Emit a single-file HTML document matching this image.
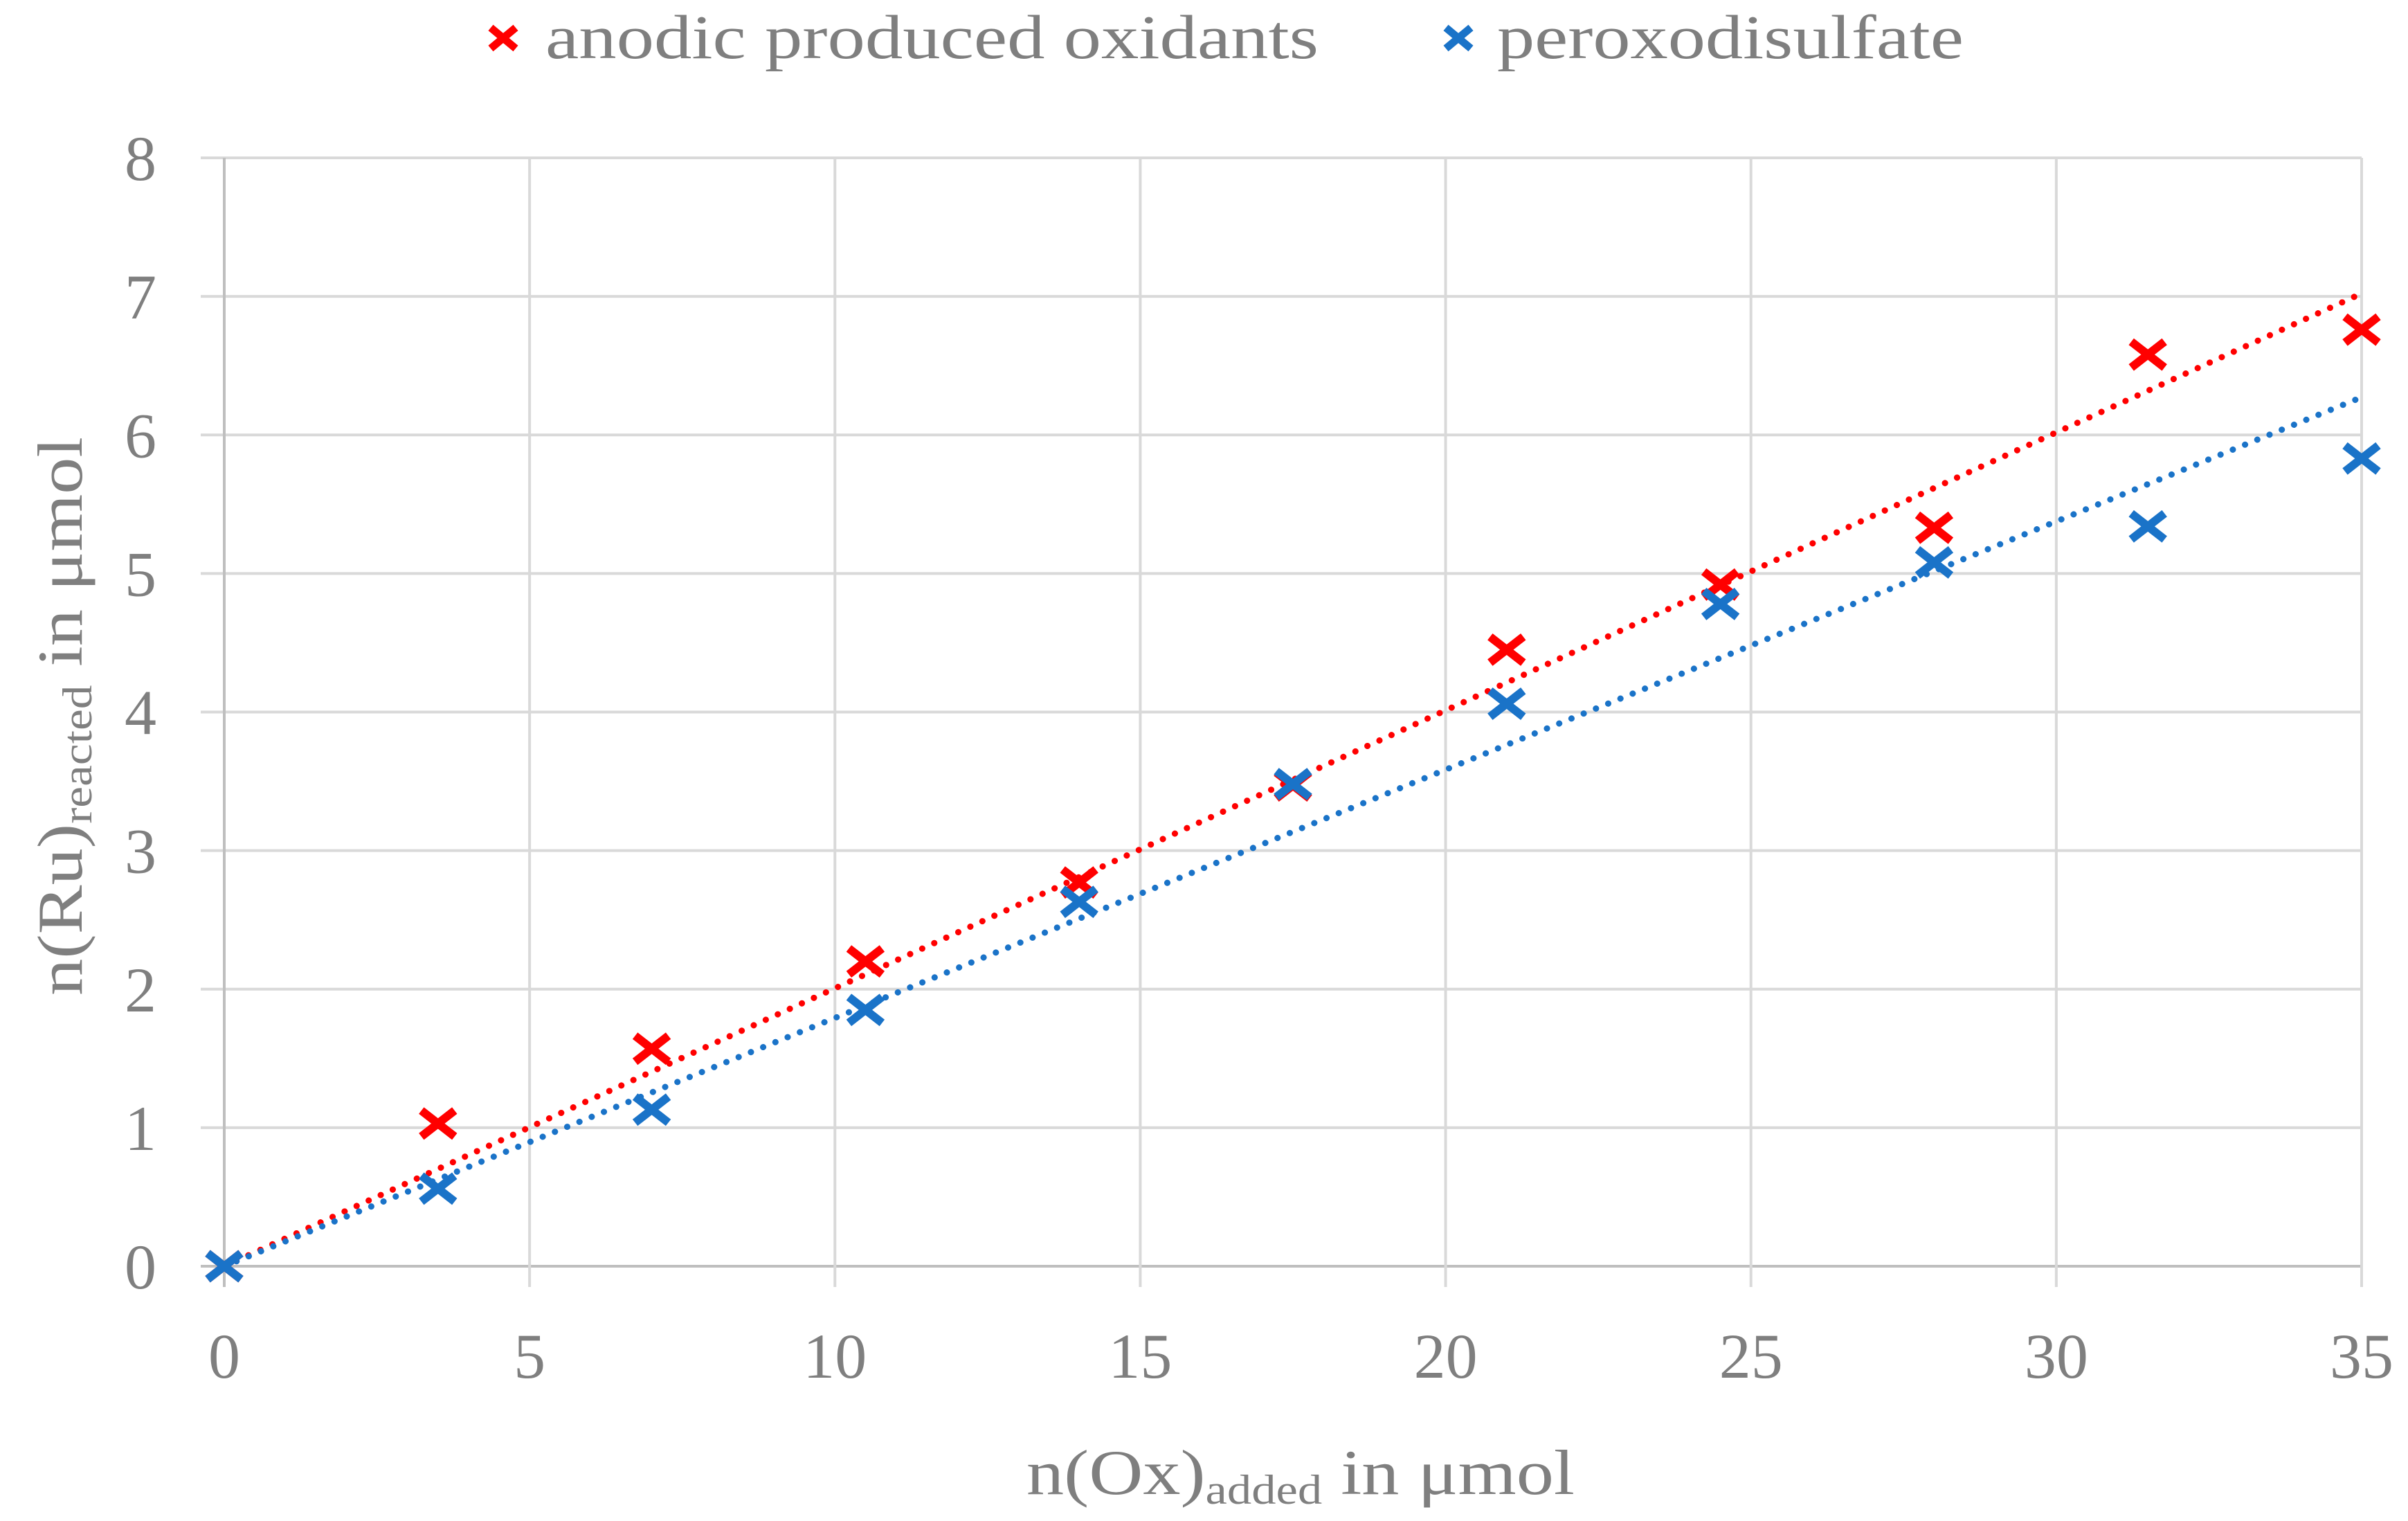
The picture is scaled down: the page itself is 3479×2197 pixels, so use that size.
<!DOCTYPE html>
<html><head><meta charset="utf-8">
<style>
html,body{margin:0;padding:0;background:#fff;}
svg{display:block;}
text{font-family:"Liberation Serif","DejaVu Serif",serif;fill:#7f7f7f;}
</style></head>
<body>
<svg id="chart" width="3479" height="2197" viewBox="0 0 3479 2197" xmlns="http://www.w3.org/2000/svg">
<g id="grid"></g>
<g id="axes"></g>
<g id="trends"></g>
<g id="marks"></g>
<g id="legend">
  <g>
    <path d="M709,40 L745,70 M745,40 L709,70" stroke="#ff0000" stroke-width="11"/>
    <text x="788" y="84" font-size="90" textLength="1117" lengthAdjust="spacingAndGlyphs">anodic produced oxidants</text>
  </g>
  <g>
    <path d="M2089,40 L2125,70 M2125,40 L2089,70" stroke="#1a73c8" stroke-width="11"/>
    <text x="2163" y="84" font-size="90" textLength="674" lengthAdjust="spacingAndGlyphs">peroxodisulfate</text>
  </g>
</g>
<text x="1483" y="2158" font-size="92" textLength="792" lengthAdjust="spacingAndGlyphs">n(Ox)<tspan font-size="60" dy="14">added</tspan><tspan dy="-14"> in μmol</tspan></text>
<text transform="translate(118,1438) rotate(-90)" font-size="92" textLength="807" lengthAdjust="spacingAndGlyphs">n(Ru)<tspan font-size="60" dy="14">reacted</tspan><tspan dy="-14"> in μmol</tspan></text>
</svg>
<script>
const xTicks = [0,5,10,15,20,25,30,35];
const yTicks = [0,1,2,3,4,5,6,7,8];
const xValues = [0,3.5,7,10.5,14,17.5,21,24.5,28,31.5,35];
const anodicValues = [0,1.03,1.57,2.2,2.77,3.47,4.45,4.92,5.33,6.58,6.76];
const peroxoValues = [0,0.56,1.13,1.85,2.63,3.48,4.06,4.78,5.08,5.34,5.83];
const anodicSlope = [0.2006];
const peroxoSlope = [0.1792];

const NS='http://www.w3.org/2000/svg';
const X0=324,X1=3412,Y0=1829,Y1=228;
const xScale=v=>X0+(v-0)/(35-0)*(X1-X0);
const yScale=v=>Y0-(v-0)/(8-0)*(Y0-Y1);
function mk(tag,attrs,parent){const e=document.createElementNS(NS,tag);for(const k in attrs)e.setAttribute(k,attrs[k]);parent.appendChild(e);return e;}
const grid=document.getElementById('grid'),axes=document.getElementById('axes'),trends=document.getElementById('trends'),marks=document.getElementById('marks');

yTicks.forEach(t=>{
  const y=yScale(t);
  const l=mk('line',{x1:290,x2:X1,y1:y,y2:y,stroke:t===0?'#bfbfbf':'#d9d9d9','stroke-width':4},grid);
  
  
  const tx=mk('text',{x:226,y:y+32,'font-size':92,'text-anchor':'end'},axes);
  tx.textContent=t;
  
  
});
xTicks.forEach(t=>{
  const x=xScale(t);
  const l=mk('line',{x1:x,x2:x,y1:Y1,y2:1859,stroke:t===0?'#bfbfbf':'#d9d9d9','stroke-width':4},grid);
  
  
  const tx=mk('text',{x:x,y:1990,'font-size':92,'text-anchor':'middle'},axes);
  tx.textContent=t;
  
  
});

function trend(slope,color,name){
  const l=mk('line',{x1:xScale(0),y1:yScale(0),x2:xScale(35),y2:yScale(35*slope),stroke:color,'stroke-width':9,'stroke-linecap':'round','stroke-dasharray':'0.1 19'},trends);
  
  
}
trend(anodicSlope[0],'#ff0000','trendline-anodic');
trend(peroxoSlope[0],'#1a73c8','trendline-peroxodisulfate');

function series(vals,color,name){
  vals.forEach((v,i)=>{
    const cx=xScale(xValues[i]),cy=yScale(v),r=24;
    const p=mk('path',{d:`M${cx-r},${cy-r*0.78} L${cx+r},${cy+r*0.78} M${cx+r},${cy-r*0.78} L${cx-r},${cy+r*0.78}`,stroke:color,'stroke-width':12},marks);
    
    
  });
}
series(anodicValues,'#ff0000','anodic');
series(peroxoValues,'#1a73c8','peroxodisulfate');
</script>
</body></html>
